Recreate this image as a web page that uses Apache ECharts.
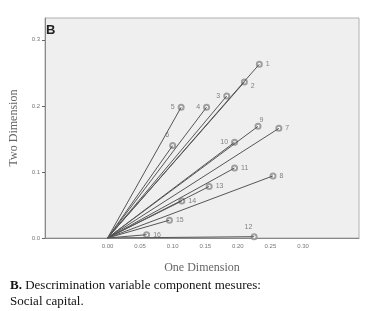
<!DOCTYPE html>
<html>
<head>
<meta charset="utf-8">
<script src="https://cdn.jsdelivr.net/npm/echarts@6/dist/echarts.min.js"></script>
<style>
  html, body { margin: 0; padding: 0; background: #fff; }
  #chart { width: 365px; height: 311px; }
</style>
</head>
<body>
<div id="chart"></div>
<script>
// variable names and their coordinates (one dimension, two dimension)
var names = ['1', '2', '3', '4', '5', '6', '7', '8', '9', '10', '11', '12', '13', '14', '15', '16'];
var dimOne = [0.233, 0.210, 0.183, 0.152, 0.113, 0.100, 0.263, 0.254, 0.231, 0.195, 0.195, 0.225, 0.156, 0.114, 0.095, 0.060];
var dimTwo = [0.263, 0.236, 0.215, 0.198, 0.198, 0.140, 0.166, 0.094, 0.169, 0.145, 0.106, 0.002, 0.078, 0.056, 0.027, 0.005];
var xTicks = [0, 0.05, 0.10, 0.15, 0.20, 0.25, 0.30];
var yTicks = [0, 0.1, 0.2, 0.3];

// where each point label sits relative to its marker
var labelSide = {
    '3': 'left', '4': 'left', '5': 'left', '10': 'left'
};

var series = [];
names.forEach(function (n, i) {
    series.push({
        type: 'line',
        data: [[0, 0], [dimOne[i], dimTwo[i]]],
        symbol: 'none',
        silent: true,
        lineStyle: { color: '#555', width: 1 }
    });
});

series.push({
    type: 'scatter',
    symbol: 'emptyCircle',
    symbolSize: 5,
    itemStyle: { color: '#8a8a8a', borderWidth: 0.8 },
    data: names.map(function (n, i) {
        var lab = { position: labelSide[n] || 'right', distance: 3 };
        if (n === '9') { lab = { position: [5, -6] }; }
        if (n === '6') { lab = { position: [-4, -10] }; }
        if (n === '12') { lab = { position: [-6, -10] }; }
        if (n === '2') { lab = { position: 'right', distance: 3, offset: [0, 4] }; }
        return { value: [dimOne[i], dimTwo[i]], name: n, label: lab };
    }),
    label: {
        show: true,
        formatter: '{b}',
        color: '#666',
        fontSize: 7,
        fontFamily: 'Arial, Liberation Sans, sans-serif'
    }
});

var chart = echarts.init(document.getElementById('chart'), null, { renderer: 'canvas' });
chart.setOption({
    animation: false,
    backgroundColor: '#fff',
    title: {
        text: 'B',
        left: 41,
        top: 19,
        textStyle: { fontSize: 13, fontWeight: 'bold', color: '#222', fontFamily: 'Liberation Sans, Arial, sans-serif' }
    },
    graphic: [
        {
            type: 'text', left: 10, top: 279,
            style: {
                text: '{b|B.} Descrimination variable component mesures:',
                rich: { b: { fontWeight: 'bold', fontSize: 13, fontFamily: 'Liberation Serif, Times New Roman, serif', fill: '#111' } },
                fontSize: 13, fontFamily: 'Liberation Serif, Times New Roman, serif', fill: '#111'
            }
        },
        {
            type: 'text', left: 10, top: 295,
            style: { text: 'Social capital.', fontSize: 13, fontFamily: 'Liberation Serif, Times New Roman, serif', fill: '#111' }
        }
    ],
    grid: {
        left: 38, right: 6, top: 18, bottom: 73,
        show: true,
        backgroundColor: '#efefef',
        borderColor: '#b0b0b0',
        borderWidth: 1
    },
    xAxis: {
        type: 'value',
        min: -0.096,
        max: 0.386,
        name: 'One Dimension',
        nameLocation: 'middle',
        nameGap: 24,
        nameTextStyle: { fontFamily: 'Liberation Serif, Times New Roman, serif', fontSize: 12, color: '#666' },
        axisLine: { show: true, onZero: false, lineStyle: { color: '#888' } },
        axisTick: { show: false },
        splitLine: { show: false },
        axisLabel: {
            customValues: xTicks,
            fontSize: 6,
            color: '#777',
            margin: 5,
            formatter: function (v) { return v.toFixed(2); }
        }
    },
    yAxis: {
        type: 'value',
        min: 0,
        max: 0.333,
        name: 'Two Dimension',
        nameLocation: 'middle',
        nameGap: 25,
        nameTextStyle: { fontFamily: 'Liberation Serif, Times New Roman, serif', fontSize: 12, color: '#666' },
        axisLine: { show: true, onZero: false, lineStyle: { color: '#888' } },
        axisTick: { show: true, customValues: yTicks, length: 3, lineStyle: { color: '#666' } },
        splitLine: { show: false },
        axisLabel: {
            customValues: yTicks,
            fontSize: 6,
            color: '#777',
            margin: 5,
            formatter: function (v) { return v.toFixed(1); }
        }
    },
    series: series
});
</script>
</body>
</html>
